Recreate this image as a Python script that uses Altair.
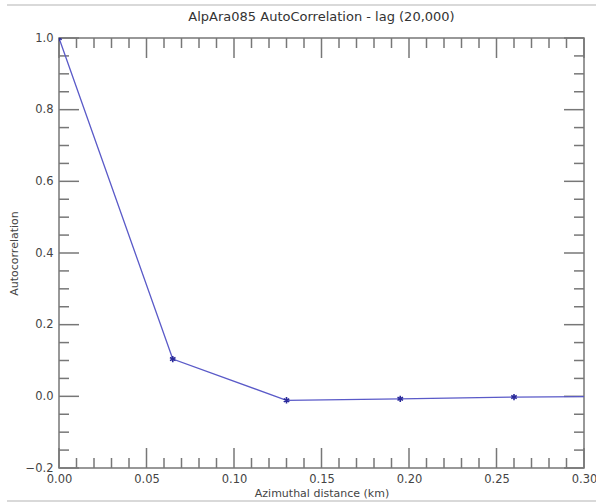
import altair as alt
import pandas as pd

# Data
dist_km = [0.0, 0.065, 0.13, 0.195, 0.26, 0.325]
autocorr = [1.0, 0.104, -0.011, -0.007, -0.002, 0.0]

x_major = [0.0, 0.05, 0.10, 0.15, 0.20, 0.25, 0.30]
x_minor = [0.01, 0.02, 0.03, 0.04, 0.06, 0.07, 0.08, 0.09, 0.11, 0.12, 0.13, 0.14,
           0.16, 0.17, 0.18, 0.19, 0.21, 0.22, 0.23, 0.24, 0.26, 0.27, 0.28, 0.29]
y_major = [-0.2, 0.0, 0.2, 0.4, 0.6, 0.8, 1.0]
y_minor = [-0.15, -0.1, -0.05, 0.05, 0.1, 0.15, 0.25, 0.3, 0.35, 0.45, 0.5, 0.55,
           0.65, 0.7, 0.75, 0.85, 0.9, 0.95]
title_text = ["AlpAra085 AutoCorrelation - lag (20,000)"]

W, H = 525, 430
FONT = "DejaVu Sans"
AX = "#777777"
TXT = "#444444"

df = pd.DataFrame({"d": dist_km, "r": autocorr})
xmaj = pd.DataFrame({"v": x_major})
xmin = pd.DataFrame({"v": x_minor})
ymaj = pd.DataFrame({"v": y_major})
ymin = pd.DataFrame({"v": y_minor})

xscale = alt.Scale(domain=[0, 0.3], nice=False, zero=False)
yscale = alt.Scale(domain=[-0.2, 1.0], nice=False, zero=False)

xaxis = alt.Axis(values=x_major, format=".2f", ticks=False, tickSize=0, domain=False,
                 grid=False, labelPadding=5, labelFontSize=11.5, labelColor=TXT,
                 labelFont=FONT, labelFlush=False, labelOverlap=False,
                 title="Azimuthal distance (km)", titleFont=FONT,
                 titleFontSize=11, titleFontWeight="normal", titleColor=TXT,
                 titleBaseline="middle", titleY=25, titleX=W / 2)
yaxis = alt.Axis(values=y_major, format=".1f", ticks=False, tickSize=0, domain=False,
                 grid=False, labelPadding=6, labelFontSize=11.5, labelColor=TXT,
                 labelFont=FONT, labelFlush=False, labelOverlap=False,
                 title="Autocorrelation", titleFont=FONT,
                 titleFontSize=11, titleFontWeight="normal", titleColor=TXT,
                 titleX=-45, titleY=H / 2, titleBaseline="middle", titleAngle=270)

line = alt.Chart(df).mark_line(color="#5a5ac8", strokeWidth=1.3, clip=True).encode(
    x=alt.X("d:Q", scale=xscale, axis=xaxis),
    y=alt.Y("r:Q", scale=yscale, axis=yaxis),
)
STAR = "M0,-1L0,1M-0.87,-0.5L0.87,0.5M-0.87,0.5L0.87,-0.5"
pts = alt.Chart(df).mark_point(shape=STAR, filled=False, size=40, color="#2a2a9a",
                               strokeWidth=1.6, opacity=1, clip=True).encode(
    x=alt.X("d:Q", scale=xscale), y=alt.Y("r:Q", scale=yscale)
)

def xticks(data, length):
    bottom = alt.Chart(data).mark_rule(color=AX, strokeWidth=1.5).encode(
        x=alt.X("v:Q", scale=xscale), y=alt.value(H), y2=alt.value(H - length))
    top = alt.Chart(data).mark_rule(color=AX, strokeWidth=1.5).encode(
        x=alt.X("v:Q", scale=xscale), y=alt.value(0), y2=alt.value(length))
    return bottom + top

def yticks(data, length):
    left = alt.Chart(data).mark_rule(color=AX, strokeWidth=1.5).encode(
        y=alt.Y("v:Q", scale=yscale), x=alt.value(0), x2=alt.value(length))
    right = alt.Chart(data).mark_rule(color=AX, strokeWidth=1.5).encode(
        y=alt.Y("v:Q", scale=yscale), x=alt.value(W), x2=alt.value(W - length))
    return left + right

one = pd.DataFrame({"t": title_text})
title = alt.Chart(one).mark_text(font=FONT, fontSize=13, color="#333333",
                                 align="center", baseline="alphabetic").encode(
    text="t:N", x=alt.value(W / 2), y=alt.value(-17))
frame_top = alt.Chart(one).mark_rule(color="#cccccc", strokeWidth=1.5).encode(
    x=alt.value(-52), x2=alt.value(W + 12), y=alt.value(-33))
frame_bot = alt.Chart(one).mark_rule(color="#cccccc", strokeWidth=1.5).encode(
    x=alt.value(-52), x2=alt.value(W + 12), y=alt.value(H + 33))

chart = alt.layer(
    xticks(xmaj, 20), xticks(xmin, 10), yticks(ymaj, 20), yticks(ymin, 10),
    line, pts, title, frame_top, frame_bot,
).properties(
    width=W, height=H,
    autosize=alt.AutoSizeParams(type="none"),
    padding={"left": 59, "top": 38, "right": 12, "bottom": 34},
).configure_view(stroke=AX, strokeWidth=1.5)

chart.save("out.html", embed_options={"renderer": "svg", "actions": False})
